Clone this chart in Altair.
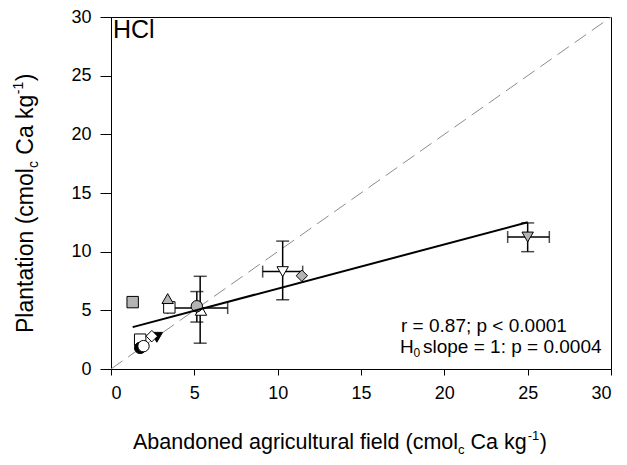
import altair as alt
import pandas as pd

# ---- data ----
pt_site = ["A", "B", "C", "D", "E", "F", "G", "H", "I", "J", "K", "M", "L"]
pt_x = [1.3, 3.5, 3.4, 5.4, 5.15, 10.3, 11.45, 25.0, 1.75, 1.75, 1.95, 2.75, 2.45]
pt_y = [5.7, 5.25, 6.0, 5.0, 5.35, 8.3, 7.95, 11.25, 2.5, 1.8, 1.95, 2.7, 2.8]

# horizontal error bars
hx_lo = [3.4, 9.1, 23.8]
hx_hi = [7.0, 11.5, 26.3]
hx_y = [5.2, 8.3, 11.25]
# vertical error bars
vy_lo = [2.2, 4.0, 5.9, 10.0]
vy_hi = [7.9, 6.6, 10.9, 12.45]
vy_x = [5.35, 5.15, 10.3, 25.0]

reg_x = [1.3, 25.0]
reg_y = [3.57, 12.5]
one_x = [0, 30]
one_y = [0, 30]

x_ticks = [0, 5, 10, 15, 20, 25, 30]
y_ticks = [0, 5, 10, 15, 20, 25, 30]

FONT = "Liberation Sans"

shape_range = ["square", "square", "triangle-up", "triangle-up", "circle", "triangle-down",
               "diamond", "triangle-down", "square", "circle", "circle", "triangle-down", "diamond"]
fill_range = ["#b4b4b4", "white", "#b4b4b4", "white", "#b4b4b4", "white",
              "#b4b4b4", "#b4b4b4", "white", "black", "white", "black", "white"]
size_range = [130, 130, 220, 220, 180, 240, 250, 240, 130, 170, 170, 210, 240]

xs = alt.Scale(domain=[0, 30], nice=False, zero=False)
ys = alt.Scale(domain=[0, 30], nice=False, zero=False)
xaxis = alt.Axis(values=x_ticks, grid=False, tickSize=6, labelPadding=9, format="d")
yaxis = alt.Axis(values=y_ticks, grid=False, tickSize=11, labelPadding=9, format="d")


def X(field):
    return alt.X(field, type="quantitative", scale=xs, axis=xaxis, title=None)


def Y(field):
    return alt.Y(field, type="quantitative", scale=ys, axis=yaxis, title=None)


pts = pd.DataFrame({"site": pt_site, "x": pt_x, "y": pt_y, "ord": list(range(len(pt_site)))})
hdf = pd.DataFrame({"lo": hx_lo, "hi": hx_hi, "y": hx_y})
vdf = pd.DataFrame({"lo": vy_lo, "hi": vy_hi, "x": vy_x})
hcaps = pd.DataFrame({"x": hx_lo + hx_hi, "y": hx_y + hx_y})
vcaps = pd.DataFrame({"x": vy_x + vy_x, "y": vy_lo + vy_hi})
reg = pd.DataFrame({"x": reg_x, "y": reg_y})
one = pd.DataFrame({"x": one_x, "y": one_y})
dummy = pd.DataFrame({"a": [0]})

identity = alt.Chart(one).mark_line(color="#8c8c8c", strokeWidth=1, strokeDash=[14, 7]).encode(
    x=X("x"), y=Y("y"))

hbar = alt.Chart(hdf).mark_rule(color="black", strokeWidth=1.5).encode(
    x=X("lo"), x2="hi", y=Y("y"))
vbar = alt.Chart(vdf).mark_rule(color="black", strokeWidth=1.5).encode(
    y=Y("lo"), y2="hi", x=X("x"))
hcap = alt.Chart(hcaps).mark_tick(color="black", orient="vertical", size=12, thickness=1.5).encode(
    x=X("x"), y=Y("y"))
vcap = alt.Chart(vcaps).mark_tick(color="black", orient="horizontal", size=13, thickness=1.5).encode(
    x=X("x"), y=Y("y"))

points = alt.Chart(pts).mark_point(filled=True, stroke="black", strokeWidth=1, opacity=1).encode(
    x=X("x"), y=Y("y"),
    shape=alt.Shape("site:N", scale=alt.Scale(domain=pt_site, range=shape_range), legend=None),
    fill=alt.Fill("site:N", scale=alt.Scale(domain=pt_site, range=fill_range), legend=None),
    size=alt.Size("site:N", scale=alt.Scale(domain=pt_site, range=size_range), legend=None),
    order=alt.Order("ord:Q"),
)

regline = alt.Chart(reg).mark_line(color="black", strokeWidth=2).encode(x=X("x"), y=Y("y"))


def txt(s, x, y, size, angle=0):
    m = alt.Chart(dummy).mark_text(text=s, font=FONT, fontSize=size, color="black",
                                   align="left", baseline="alphabetic", angle=angle)
    return m.encode(x=alt.value(x), y=alt.value(y))


XT = 21.5  # x title font size
xs0 = 22
xc = xs0 + 15117 * XT / 1000
xca = xc + 500 * 13 / 1000 + 278 * XT / 1000
xsup = xca + 2612 * XT / 1000 + 1
xpar = xsup + 889 * 13 / 1000 + 0.5

YT = 23
yb = -78
ys0 = 316
yc = ys0 - 7169 * YT / 1000
yca = yc - 500 * 14 / 1000 - 278 * YT / 1000
ysup = yca - 2612 * YT / 1000 - 0.5
ypar = ysup - 889 * 14 / 1000 - 0.5

labels = [
    txt("HCl", 2, 21, 25),
    txt("r = 0.87; p < 0.0001", 290, 315, 19),
    txt("H", 289, 336, 19),
    txt("0", 302.5, 340, 12),
    txt("slope = 1: p = 0.0004", 312, 336, 19),
    # x title
    txt("Abandoned agricultural field (cmol", xs0, 432, XT),
    txt("c", xc, 437, 13),
    txt("Ca kg", xca, 432, XT),
    txt("-1", xsup, 423, 13),
    txt(")", xpar, 432, XT),
    # y title
    txt("Plantation (cmol", yb, ys0, YT, 270),
    txt("c", yb + 5, yc, 14, 270),
    txt("Ca kg", yb, yca, YT, 270),
    txt("-1", yb - 10, ysup, 14, 270),
    txt(")", yb, ypar, YT, 270),
]

chart = alt.layer(identity, hbar, vbar, hcap, vcap, points, regline, *labels).properties(
    width=500, height=352,
    autosize=alt.AutoSizeParams(type="none"),
    padding={"left": 111, "top": 17, "right": 16, "bottom": 96},
).configure_view(stroke="black", strokeWidth=1).configure_axis(
    domainColor="black", tickColor="black", labelColor="black",
    labelFont=FONT, labelFontSize=18, domainWidth=1, tickWidth=1,
)

chart.save("out.html", embed_options={"renderer": "svg", "actions": False})
